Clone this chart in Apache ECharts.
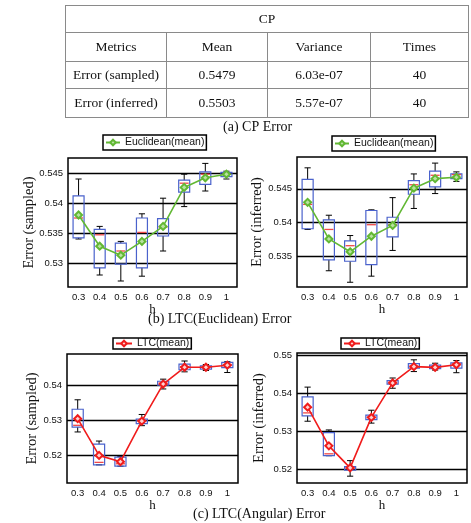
<!DOCTYPE html>
<html>
<head>
    <meta charset="utf-8">
    <title>CP / LTC Error</title>
    <script type="text/javascript" src="https://cdn.jsdelivr.net/npm/echarts@6/dist/echarts.min.js"></script>
    <style>
        html, body { margin:0; padding:0; background:#fff; }
        #main { position:absolute; left:0; top:0; width:471px; height:523px; }
        #cp { position:absolute; left:65px; top:5px; width:403px; border-collapse:collapse; table-layout:fixed;
              font-family:"Liberation Serif","DejaVu Serif",serif; font-size:13.5px; color:#111; z-index:2; }
        #cp td { border:1px solid #8a8a8a; text-align:center; padding:0; }
    </style>
</head>
<body>
    <div id="main"></div>
    <!-- table (a) -->
    <table id="cp"></table>
    <script type="text/javascript">
        // table (a) CP Error
        var tableHead = ['Metrics', 'Mean', 'Variance', 'Times'];
        var tableRows = [
            ['Error (sampled)', '0.5479', '6.03e-07', '40'],
            ['Error (inferred)', '0.5503', '5.57e-07', '40']
        ];

        // x categories
        var hValues = ['0.3', '0.4', '0.5', '0.6', '0.7', '0.8', '0.9', '1'];

        // boxes: [min, q1, median, q3, max]
        var eucSampledBox = [
            [0.5341, 0.5343, 0.5376, 0.5413, 0.5441],
            [0.5281, 0.5293, 0.5348, 0.5357, 0.5362],
            [0.5271, 0.5299, 0.5321, 0.5334, 0.5337],
            [0.5279, 0.5293, 0.5352, 0.5376, 0.5383],
            [0.5321, 0.5346, 0.5361, 0.5375, 0.5409],
            [0.5395, 0.5419, 0.5434, 0.5439, 0.5449],
            [0.5421, 0.5432, 0.5449, 0.5453, 0.5467],
            [0.5441, 0.5445, 0.5449, 0.5452, 0.5454]
        ];
        var eucSampledMean = [0.5381, 0.5329, 0.5314, 0.5337, 0.5362, 0.5427, 0.5443, 0.5449];

        var eucInferredBox = [
            [0.5390, 0.5391, 0.5427, 0.5464, 0.5481],
            [0.5329, 0.5345, 0.5390, 0.5404, 0.5411],
            [0.5312, 0.5343, 0.5366, 0.5373, 0.5381],
            [0.5321, 0.5338, 0.5397, 0.5418, 0.5419],
            [0.5359, 0.5379, 0.5397, 0.5408, 0.5437],
            [0.5421, 0.5442, 0.5456, 0.5462, 0.5472],
            [0.5443, 0.5453, 0.5470, 0.5476, 0.5488],
            [0.5461, 0.5465, 0.5471, 0.5472, 0.5475]
        ];
        var eucInferredMean = [0.5430, 0.5376, 0.5357, 0.5380, 0.5396, 0.5451, 0.5465, 0.5467];

        var angSampledBox = [
            [0.5266, 0.5280, 0.5285, 0.5331, 0.5358],
            [0.5172, 0.5172, 0.5179, 0.5231, 0.5240],
            [0.5168, 0.5168, 0.5175, 0.5194, 0.5196],
            [0.5284, 0.5290, 0.5299, 0.5303, 0.5316],
            [0.5389, 0.5400, 0.5406, 0.5411, 0.5417],
            [0.5438, 0.5444, 0.5453, 0.5460, 0.5469],
            [0.5442, 0.5446, 0.5451, 0.5455, 0.5459],
            [0.5436, 0.5450, 0.5459, 0.5465, 0.5467]
        ];
        var angSampledMean = [0.5304, 0.5199, 0.5181, 0.5297, 0.5403, 0.5451, 0.5451, 0.5457];

        var angInferredBox = [
            [0.5327, 0.5341, 0.5349, 0.5391, 0.5417],
            [0.5236, 0.5236, 0.5241, 0.5297, 0.5304],
            [0.5182, 0.5198, 0.5203, 0.5207, 0.5223],
            [0.5322, 0.5331, 0.5338, 0.5343, 0.5356],
            [0.5414, 0.5425, 0.5430, 0.5434, 0.5441],
            [0.5458, 0.5467, 0.5473, 0.5479, 0.5489],
            [0.5462, 0.5466, 0.5471, 0.5475, 0.5480],
            [0.5455, 0.5467, 0.5479, 0.5481, 0.5487]
        ];
        var angInferredMean = [0.5364, 0.5262, 0.5204, 0.5337, 0.5428, 0.5471, 0.5469, 0.5476];

        // y tick labels
        var eucSampledTicks = [0.53, 0.535, 0.54, 0.545];
        var eucInferredTicks = [0.535, 0.54, 0.545];
        var angSampledTicks = [0.52, 0.53, 0.54];
        var angInferredTicks = [0.52, 0.53, 0.54, 0.55];

        // build the html table
        var html = '<tr style="height:27px"><td colspan="4">CP</td></tr>';
        html += '<tr style="height:29px">' + tableHead.map(function (t) { return '<td>' + t + '</td>'; }).join('') + '</tr>';
        tableRows.forEach(function (r, i) {
            html += '<tr style="height:' + (i == 0 ? 27 : 29) + 'px">' + r.map(function (t) { return '<td>' + t + '</td>'; }).join('') + '</tr>';
        });
        document.getElementById('cp').innerHTML = '<colgroup><col style="width:101px"><col style="width:101px"><col style="width:103px"><col style="width:98px"></colgroup>' + html;

        var SANS = 'Liberation Sans';
        var SERIF = 'Liberation Serif';
        var GREEN = '#62b834';
        var RED = '#f01c1c';

        function renderBox(params, api) {
            var x = api.value(0);
            var lo = api.coord([x, api.value(1)]);
            var q1 = api.coord([x, api.value(2)]);
            var md = api.coord([x, api.value(3)]);
            var q3 = api.coord([x, api.value(4)]);
            var hi = api.coord([x, api.value(5)]);
            var w = api.size([1, 0])[0] * 0.52;
            var cx = lo[0];
            var c = w * 0.28;
            var blk = { stroke: '#000', lineWidth: 1 };
            return {
                type: 'group',
                children: [
                    { type: 'line', shape: { x1: cx, y1: hi[1], x2: cx, y2: q3[1] }, style: blk },
                    { type: 'line', shape: { x1: cx, y1: q1[1], x2: cx, y2: lo[1] }, style: blk },
                    { type: 'line', shape: { x1: cx - c, y1: hi[1], x2: cx + c, y2: hi[1] }, style: blk },
                    { type: 'line', shape: { x1: cx - c, y1: lo[1], x2: cx + c, y2: lo[1] }, style: blk },
                    { type: 'rect', shape: { x: cx - w / 2, y: q3[1], width: w, height: q1[1] - q3[1] },
                      style: { fill: 'none', stroke: '#4a62cc', lineWidth: 1.2 } },
                    { type: 'line', shape: { x1: cx - w / 2 + 1, y1: md[1], x2: cx + w / 2 - 1, y2: md[1] },
                      style: { stroke: '#f04848', lineWidth: 1.3 } }
                ]
            };
        }

        var panels = [
            { box: eucSampledBox, mean: eucSampledMean, ticks: eucSampledTicks, min: 0.5261, max: 0.5476,
              grid: { left: 68, top: 158, width: 169, height: 129 }, yname: 'Error (sampled)', gap: 31,
              name: 'Euclidean(mean)', color: GREEN, fill: '#b8e2a0' },
            { box: eucInferredBox, mean: eucInferredMean, ticks: eucInferredTicks, min: 0.5305, max: 0.5497,
              grid: { left: 297, top: 157, width: 170, height: 130 }, yname: 'Error (inferred)', gap: 32,
              name: 'Euclidean(mean)', color: GREEN, fill: '#b8e2a0' },
            { box: angSampledBox, mean: angSampledMean, ticks: angSampledTicks, min: 0.5120, max: 0.5489,
              grid: { left: 67, top: 354, width: 171, height: 129 }, yname: 'Error (sampled)', gap: 27,
              name: 'LTC(mean)', color: RED, fill: '#ffd0d0' },
            { box: angInferredBox, mean: angInferredMean, ticks: angInferredTicks, min: 0.5164, max: 0.5507,
              grid: { left: 297, top: 353, width: 170, height: 130 }, yname: 'Error (inferred)', gap: 30,
              name: 'LTC(mean)', color: RED, fill: '#ffd0d0' }
        ];

        var legendPos = [
            { left: 103, top: 135, padding: [2, 2, 2, 2], itemWidth: 14 },
            { left: 332, top: 136, padding: [2, 2, 2, 2], itemWidth: 14 },
            { left: 113, top: 338, padding: [0, 2, 0, 2], itemWidth: 16 },
            { left: 341, top: 338, padding: [0, 2, 0, 2], itemWidth: 16 }
        ];

        var grids = [], xAxes = [], yAxes = [], series = [], legends = [];
        panels.forEach(function (p, i) {
            grids.push({ left: p.grid.left, top: p.grid.top, width: p.grid.width, height: p.grid.height,
                show: true, borderColor: '#000', borderWidth: 1.5, backgroundColor: 'transparent' });
            xAxes.push({
                type: 'category', gridIndex: i, data: hValues, boundaryGap: true,
                axisLine: { show: false }, axisTick: { show: false },
                axisLabel: { fontFamily: SANS, fontSize: 9.5, color: '#111', margin: 5 },
                name: 'h', nameLocation: 'middle', nameGap: 16, nameMoveOverlap: false,
                nameTextStyle: { fontFamily: SERIF, fontSize: 13, color: '#111' }
            });
            yAxes.push({
                type: 'value', gridIndex: i, min: p.min, max: p.max,
                axisLine: { show: false },
                axisTick: { show: false, customValues: p.ticks },
                axisLabel: { customValues: p.ticks, fontFamily: SANS, fontSize: 9.5, color: '#111', margin: 5 },
                splitLine: { show: true, lineStyle: { color: '#000', width: 1.3 } },
                name: p.yname, nameLocation: 'middle', nameGap: p.gap, nameMoveOverlap: false,
                nameTextStyle: { fontFamily: SERIF, fontSize: 14.5, color: '#111' }
            });
            series.push({
                type: 'custom', name: 'box' + i, xAxisIndex: i, yAxisIndex: i,
                renderItem: renderBox, silent: true,
                encode: { x: 0, y: [1, 2, 3, 4, 5] },
                data: p.box.map(function (b, k) { return [k].concat(b); }),
                z: 2
            });
            series.push({
                type: 'line', name: p.name, xAxisIndex: i, yAxisIndex: i,
                data: p.mean, symbol: 'diamond', symbolSize: 7,
                lineStyle: { color: p.color, width: 1.6 },
                itemStyle: { color: p.fill, borderColor: p.color, borderWidth: 2 },
                z: 3
            });
            legends.push({
                data: [p.name], left: legendPos[i].left, top: legendPos[i].top,
                orient: 'horizontal', padding: legendPos[i].padding,
                itemWidth: legendPos[i].itemWidth, itemHeight: 7,
                borderColor: '#000', borderWidth: 1.5, backgroundColor: '#fff',
                textStyle: { fontFamily: SANS, fontSize: 10.5, color: '#111' },
                selectedMode: false
            });
        });

        var myChart = echarts.init(document.getElementById('main'));
        var option = {
            animation: false,
            grid: grids,
            xAxis: xAxes,
            yAxis: yAxes,
            legend: legends,
            series: series,
            graphic: [
                { type: 'text', left: 223, top: 120, style: { text: '(a) CP Error', font: '14px "Liberation Serif"', fill: '#111' } },
                { type: 'text', left: 148, top: 312, style: { text: '(b) LTC(Euclidean) Error', font: '14px "Liberation Serif"', fill: '#111' } },
                { type: 'text', left: 193, top: 507, style: { text: '(c) LTC(Angular) Error', font: '14px "Liberation Serif"', fill: '#111' } }
            ]
        };
        myChart.setOption(option);
    </script>
</body>
</html>
